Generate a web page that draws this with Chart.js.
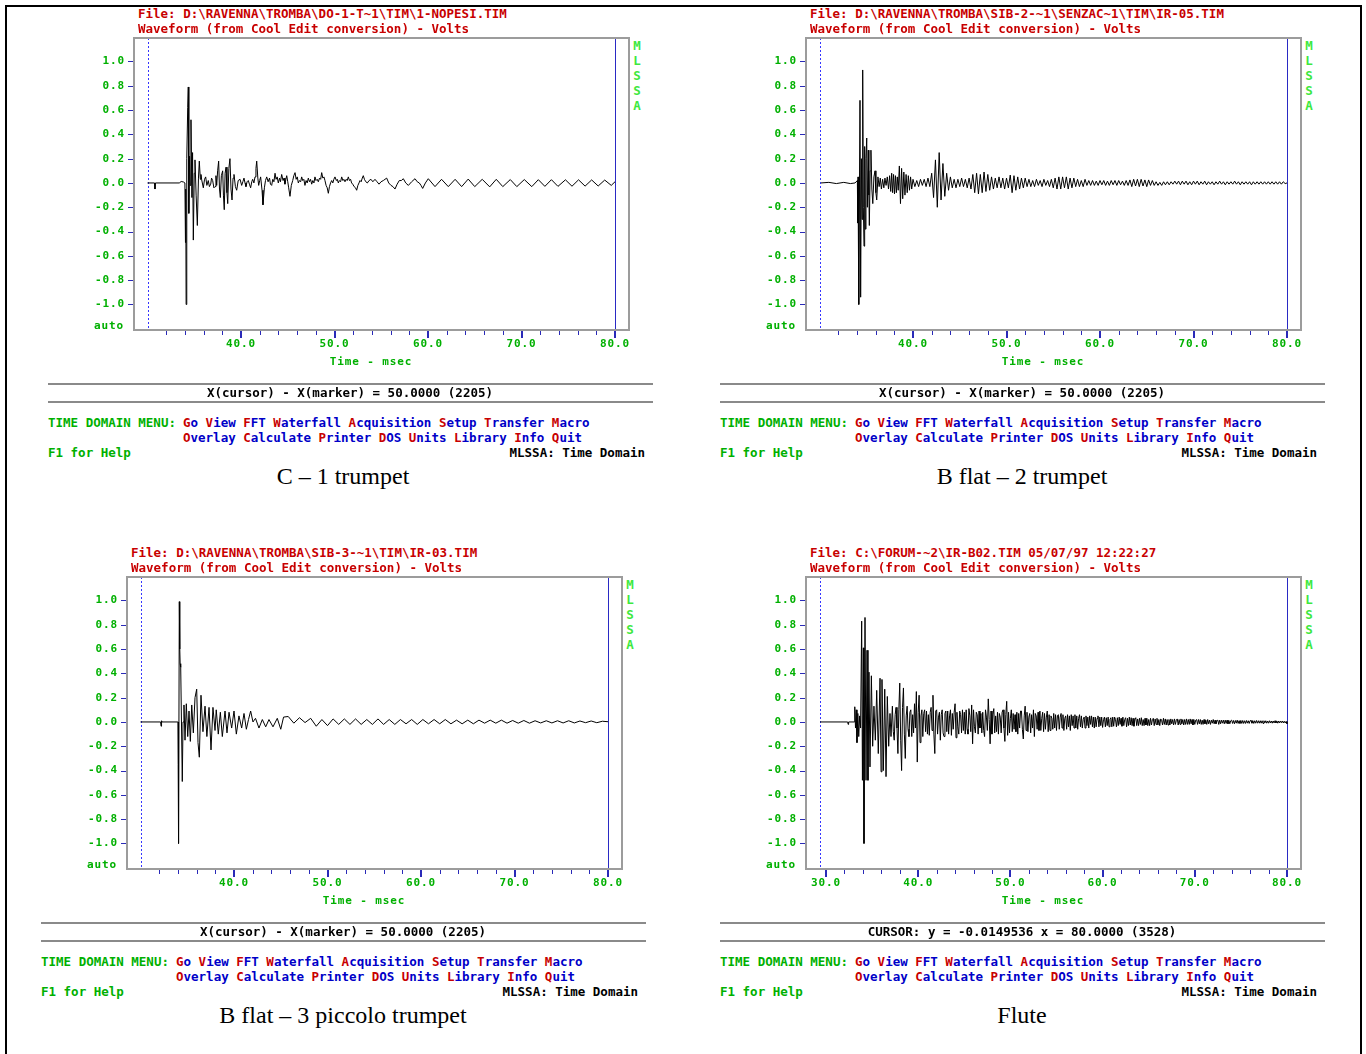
<!DOCTYPE html>
<html><head><meta charset="utf-8">
<script src="https://cdn.jsdelivr.net/npm/chart.js@4.4.1/dist/chart.umd.min.js"></script>
<style>
html,body{margin:0;padding:0;background:#fff}
body{width:1366px;height:1054px;position:relative;overflow:hidden}
#frame{position:absolute;left:5px;top:5px;width:1353px;height:1100px;border:2px solid #000}
.tx{position:absolute;white-space:pre;font-family:"DejaVu Sans Mono",monospace;font-weight:bold;font-size:12.5px;line-height:14px;height:14px}
.sm{font-size:11px;letter-spacing:0.9px}
.red{color:#c80000}.blu{color:#0000c8}.grn{color:#00b000}.blk{color:#000}.lg{color:#3ee83e}
.hr{position:absolute;height:2px;background:#8a8a8a}
.cap{position:absolute;font-family:"Liberation Serif","Times New Roman",serif;font-size:24px;line-height:26px;white-space:nowrap;transform:translateX(-50%)}
canvas{position:absolute}
</style></head><body><div id="frame"></div>
<script>
// ---------- axis ticks ----------
const voltTicks = [-1.0,-0.8,-0.6,-0.4,-0.2,0.0,0.2,0.4,0.6,0.8,1.0];
const msecTicksTrumpet = [32,34,36,38,40,42,44,46,48,50,52,54,56,58,60,62,64,66,68,70,72,74,76,78,80];
const msecTicksFlute = [30,32,34,36,38,40,42,44,46,48,50,52,54,56,58,60,62,64,66,68,70,72,74,76,78,80];

// ---------- menus / texts ----------
const menuRow1 = ['Go','View','FFT','Waterfall','Acquisition','Setup','Transfer','Macro'];
const menuRow2 = ['Overlay','Calculate','Printer','DOS','Units','Library','Info','Quit'];
const fileNames = [
  'File: D:\\RAVENNA\\TROMBA\\DO-1-T~1\\TIM\\1-NOPESI.TIM',
  'File: D:\\RAVENNA\\TROMBA\\SIB-2-~1\\SENZAC~1\\TIM\\IR-05.TIM',
  'File: D:\\RAVENNA\\TROMBA\\SIB-3-~1\\TIM\\IR-03.TIM',
  'File: C:\\FORUM-~2\\IR-B02.TIM 05/07/97 12:22:27'
];
const statusLines = [
  'X(cursor) - X(marker) = 50.0000 (2205)',
  'X(cursor) - X(marker) = 50.0000 (2205)',
  'X(cursor) - X(marker) = 50.0000 (2205)',
  'CURSOR: y = -0.0149536 x = 80.0000 (3528)'
];
const captions = ['C \u2013 1 trumpet','B flat \u2013 2 trumpet','B flat \u2013 3 piccolo trumpet','Flute'];
const markerMsec = [30.0, 30.0, 30.0, 29.35];
const cursorMsec = [80.0, 80.0, 80.0, 80.0];
const msecRanges = [[28.556,81.497],[28.556,81.497],[28.556,81.497],[27.83,81.52]];
const voltRange = [-1.21, 1.193];

// ---------- waveforms (msec, volts) ----------
const cTrumpet1 = [[30.0,0],[30.75,0],[30.8,-0.05],[30.85,0],[33.4,0],[33.6,0.012],[33.85,0.008],[34.0,0],
[34.06,-0.49],[34.09,-0.05],[34.13,-1.0],[34.2,0.2],[34.3,0.62],[34.36,0.79],[34.42,-0.25],[34.5,0.22],[34.57,-0.02],[34.65,0.52],[34.75,-0.12],[34.82,0.25],[34.9,-0.47],[35.0,0.08],[35.08,0.19],[35.2,-0.1],[35.33,-0.35],[35.45,0.04],[35.54,0.18],[35.65,0.03],[35.72,0.07],[35.8,0.025],[35.97,-0.04],[36.1,0.03],[36.22,0.05],[36.35,-0.02],[36.5,0.02],[36.62,-0.03],[36.76,-0.01],[36.85,0.04],[36.97,0.02],[37.1,-0.04],[37.22,-0.03],[37.32,0.06],[37.4,-0.02],[37.5,0.1],[37.61,0.18],[37.7,-0.05],[37.79,-0.12],[37.9,0.06],[38.04,0.1],[38.12,-0.1],[38.21,-0.22],[38.3,0.08],[38.4,0.13],[38.5,-0.08],[38.58,-0.17],[38.7,0.12],[38.82,0.2],[38.93,-0.05],[39.04,-0.14],[39.15,0.04],[39.25,0.07],[39.4,-0.03],[39.54,-0.06],[39.7,0.02],[39.9,0.03],
[40.07,-0.02],[40.2,0.01],[40.32,0.04],[40.43,0.0],[40.53,-0.03],[40.65,0.01],[40.78,0.02],[40.9,-0.01],[41.03,-0.04],[41.15,0.01],[41.25,0.03],[41.38,0.0],[41.5,0.05],[41.6,0.12],[41.68,0.18],[41.8,0.04],[41.89,-0.02],[42.0,0.02],[42.1,0.05],[42.25,-0.06],[42.35,-0.18],[42.5,-0.04],[42.62,0.02],[42.75,0.05],[42.9,0.01],[43.05,0.04],[43.15,-0.01],[43.28,-0.02],[43.4,0.03],[43.52,0.01],[43.64,0.08],[43.75,0.03],[43.87,0.05],[43.99,0.0],[44.12,0.04],[44.22,0.01],[44.35,0.07],[44.5,0.02],[44.6,0.04],[44.7,-0.01],[44.8,0.03],[44.89,0.06],[45.0,0.01],[45.1,-0.04],[45.24,-0.11],[45.38,-0.02],[45.53,0.02],[45.65,0.06],[45.78,0.085],[45.9,0.03],[46.02,0.05],[46.13,0.0],[46.25,0.02],[46.38,0.01],[46.49,0.05],[46.6,0.02],[46.72,0.03],[46.84,-0.02],[46.96,0.02],[47.08,0.0],[47.2,0.04],[47.32,0.01],[47.44,0.03],[47.56,-0.01],[47.68,0.02],[47.8,0.0],[47.91,0.05],[48.02,0.02],[48.15,0.03],[48.27,0.01],[48.4,0.04],[48.52,0.03],[48.63,0.085],[48.75,0.04],[48.87,0.05],[48.98,0.02],[49.1,-0.02],[49.22,-0.04],[49.34,-0.085],[49.46,-0.03],[49.58,0.0],[49.7,0.02],[49.82,0.0],[49.93,0.03],
[50.05,0.05],[50.2,0.02],[50.3,0.03],[50.41,0.0],[50.52,0.02],[50.65,0.01],[50.77,0.05],[50.9,0.02],[51.0,0.03],[51.12,0.01],[51.25,0.03],[51.36,0.02],[51.48,0.05],[51.6,0.02],[51.72,0.03],[51.83,0.0],[51.95,-0.01],[52.1,-0.03],[52.25,-0.04],[52.37,-0.06],[52.5,-0.02],[52.62,0.0],[52.73,0.02],[52.85,0.01],[52.97,0.04],[53.08,0.06],[53.2,0.03],[53.35,0.01],[53.51,0.0],[53.7,0.02],[53.9,0.03],[54.1,0.01],[54.33,0.03],[54.55,0.01],[54.76,-0.01],[54.98,0.01],[55.22,0.02],[55.4,0.03],[55.58,0.04],[55.8,0.0],[56.04,-0.02],[56.25,-0.03],[56.47,-0.05],[56.7,-0.01],[56.93,0.02],[57.15,0.02],[57.36,0.035],[57.62,0.0],[57.9,-0.02],[58.25,0.01],[58.61,0.035],[58.85,0.01],[59.07,0.0],[59.25,-0.02],[59.43,-0.045],[59.72,0.0],[60.03,0.035],
[60.75,-0.03],[61.45,0.03],[62.17,-0.03],[62.9,0.03],[63.6,-0.03],[64.3,0.032],[65.0,-0.03],[65.8,0.03],[66.6,-0.032],[67.3,0.03],[68.0,-0.03],[68.8,0.028],[69.5,-0.03],[70.3,0.028],[71.1,-0.03],[71.8,0.027],[72.5,-0.028],[73.2,0.027],[73.9,-0.028],[74.7,0.026],[75.4,-0.027],[76.1,0.026],[76.8,-0.026],[77.5,0.025],[78.2,-0.025],[78.9,0.024],[79.6,-0.02],[80.0,0.01]];

const bFlat2Attack = [[30.15,0],[31.0,0.005],[31.8,-0.005],[32.6,0.005],[33.3,-0.005],[33.8,0],[34.05,0.02],[34.09,-0.33],[34.12,0.05],[34.2,-1.0],[34.33,0.68],[34.4,-0.94],[34.48,0.2],[34.55,-0.3],[34.62,0.93],[34.69,-0.2],[34.76,-0.52],[34.83,0.3],[34.9,-0.38],[34.97,0.2],[35.05,0.37],[35.12,-0.2],[35.22,0.27],[35.28,-0.1],[35.33,-0.35],[35.42,0.1],[35.5,0.27],[35.6,-0.05],[35.7,-0.17],[35.82,0.05],[35.94,0.1],[36.03,-0.08],[36.12,-0.14],[36.25,0.05],[36.38,-0.03],[36.5,0.04],[36.62,-0.05],[36.75,0.03],[36.88,-0.04],[37.0,0.04],[37.12,-0.02],[37.25,0.05],[37.38,-0.05],[37.5,0.06],[37.62,-0.07],[37.72,0.08],[37.82,-0.08],[37.92,0.07],[38.02,-0.09],[38.12,0.06],[38.22,-0.08],[38.32,0.05],[38.42,-0.06],[38.54,0.14],[38.66,-0.17],[38.78,0.12],[38.9,-0.13],[39.02,0.09],[39.14,-0.1],[39.26,0.07],[39.38,-0.08],[39.5,0.06],[39.62,-0.06],[39.74,0.05],[39.86,-0.05]];
const bFlat2TailStart = 40.0, bFlat2TailStep = 0.2;
const bFlat2Tail = [
.03,-.03,.02,-.03,.03,-.02,.03,-.03,.04,-.03,
.08,-.12,.19,-.2,.25,-.14,.16,-.11,.08,-.06,
.05,-.04,.03,-.04,.03,-.03,.04,-.03,.03,-.04,
.04,-.05,.07,-.08,.08,-.09,.07,-.08,.09,-.07,
.07,-.06,.05,-.05,.04,-.04,.05,-.04,.04,-.05,
.04,-.04,.065,-.08,.06,-.06,.05,-.05,.04,-.04,
.04,-.03,.03,-.03,.02,-.03,.03,-.02,.02,-.03,
.03,-.02,.02,-.03,.03,-.04,.04,-.05,.05,-.05,
.05,-.04,.05,-.05,.04,-.04,.04,-.03,.03,-.03,
.02,-.03,.03,-.02,.02,-.02,.02,-.02,.015,-.02,
.02,-.015,.02,-.02,.015,-.02,.02,-.015,.02,-.02,
.02,-.015,.015,-.02,.02,-.02,.025,-.03,.03,-.025,
.03,-.03,.03,-.025,.025,-.03,.025,-.02,.02,-.02,
.01,-.02,.005,-.02,.01,-.015,.01,-.015,.01,-.01,
.015,-.01,.015,-.015,.015,-.01,.015,-.015,.01,-.015,
.015,-.01,.015,-.015,.01,-.01,.015,-.015,.01,-.01,
.01,-.015,.01,-.01,.015,-.01,.01,-.015,.01,-.01,
.01,-.01,.015,-.01,.01,-.015,.01,-.01,.01,-.01,
.01,-.015,.01,-.01,.01,-.01,.01,-.01,.01,-.01,
.01,-.01,.01,-.01,.01,-.01,.01,-.01,.01,-.005,
0];

const piccoloAttack = [[30.0,0],[32.15,0],[32.2,-0.035],[32.25,0.01],[32.3,0],[34.0,0],[34.03,-0.35],[34.06,0.0],[34.08,-1.0],[34.15,0.99],[34.2,0.6],[34.24,0.48],[34.3,0.45],[34.47,-0.49],[34.55,0.0],[34.65,0.14],[34.76,-0.15],[34.9,0.15],[35.05,-0.12],[35.19,0.09],[35.33,-0.16],[35.48,0.14],[35.65,-0.09],[35.83,0.2],[36.01,0.27],[36.15,-0.17],[36.29,-0.29],[36.47,0.22],[36.68,-0.08],[36.9,0.13],[37.1,-0.12],[37.33,0.12],[37.54,-0.23],[37.75,0.12],[37.97,-0.07],[38.1,0.1],[38.32,-0.1],[38.54,0.08],[38.75,-0.12],[39.04,0.09],[39.25,-0.09],[39.47,0.08],[39.75,-0.05],[40.0,0.09],[40.25,-0.1],[40.53,0.05],[40.82,-0.05],[41.07,0.07],[41.32,-0.06],[41.55,0.02],[41.78,0.09],[42.03,0.0],[42.3,0.03],[42.67,-0.05],[43.03,0.02],[43.39,-0.04],[43.74,0.02],[44.17,-0.04],[44.63,0.03],[45.0,-0.06],[45.3,0.04]];
const piccoloTailStart = 45.8, piccoloTailStep = 0.6;
const piccoloTail = [
.045,-.01,.035,-.005,.03,-.035,.02,-.03,.025,-.02,
.025,-.02,.025,-.02,.02,-.02,.025,-.02,.02,-.02,
.02,-.015,.02,-.02,.02,-.015,.02,-.015,.02,-.015,
.015,-.015,.015,-.015,.015,-.01,.015,-.01,.015,-.01,
.012,-.01,.012,-.01,.01,-.008,.01,-.008,.01,-.008,
.01,-.008,.008,-.006,.008,-.006,.006,.002];

const fluteAttack = [[29.35,0],[32.35,0],[32.4,-0.02],[32.45,0],[33.05,0],[33.12,0.125],[33.2,-0.05],[33.28,0.1],[33.36,-0.17],[33.45,0.07],[33.55,-0.12],[33.65,0.05],[33.75,-0.05],[33.87,0.83],[33.95,-0.48],[34.05,0.61],[34.12,-1.0],[34.23,0.86],[34.34,-0.48],[34.45,0.59],[34.55,-0.48],[34.66,0.41],[34.77,-0.37],[34.92,0.38],[35.06,-0.2],[35.2,0.13],[35.35,-0.15],[35.5,0.26],[35.67,-0.26],[35.86,0.36],[35.97,-0.41],[36.07,0.35],[36.22,-0.4],[36.37,0.27],[36.51,-0.45],[36.65,0.21],[36.8,-0.2],[36.94,0.07],[37.05,-0.12]];
const fluteTailStart = 37.2, fluteTailStep = 0.1;
const fluteTail = [
.13,-.08,-.15,.06,.12,-.05,-.26,.1,.32,-.15,-.4,.12,.28,-.1,-.3,.05,.13,-.06,-.12,.08,
.1,-.12,.06,-.09,.15,-.05,.25,-.33,.08,.22,-.17,.05,.1,-.12,.07,.1,-.08,.09,-.1,.06,
-.11,.08,.12,-.07,.22,-.1,-.26,.09,.1,-.1,.04,.08,-.15,.06,.1,-.09,-.12,.07,.09,-.08,
.09,-.1,.05,.1,-.11,.07,-.06,.08,.15,-.13,.08,-.04,-.1,.09,.06,-.09,.1,-.07,.08,-.1,
.1,-.06,-.1,.11,.05,-.08,.14,-.18,.1,-.04,-.09,.08,.06,-.1,.09,-.05,.07,-.09,.08,-.07,
-.12,.1,.04,-.07,.19,.02,-.18,.09,-.1,.06,.11,-.09,.05,-.08,.08,-.1,.07,.04,-.09,.08,
.1,-.05,-.16,.06,.17,-.11,.08,-.09,.03,.1,-.08,.07,-.06,.06,-.08,.08,-.1,.07,-.05,.09,
.09,-.06,-.14,.05,.13,-.07,.08,-.08,.04,.07,-.09,.06,-.05,.1,-.12,.07,.05,-.06,.08,-.07,
.09,-.07,.03,.08,-.08,.07,-.06,.04,.09,-.08,.06,-.07,.05,.03,-.06,.07,-.05,.06,-.07,.05,
.06,-.06,.04,.07,-.05,.06,-.07,.03,.05,-.06,.06,-.04,.05,-.07,.06,-.03,.05,-.05,.06,-.05,
.05,-.06,.03,.06,-.04,.05,-.05,.02,.04,-.05,.05,-.03,.04,-.05,.05,-.02,.05,-.04,.04,-.05,
.04,-.04,.03,.05,-.04,.04,-.03,.04,-.045,.02,.04,-.04,.035,-.03,.04,-.04,.02,.035,-.04,.04,
-.035,.04,.02,-.04,.035,-.03,.04,-.02,.03,-.035,.04,-.03,.02,.035,-.04,.03,-.03,.04,-.025,.035,
-.03,.03,-.035,.02,.035,-.03,.025,-.03,.03,-.02,.035,-.03,.02,-.03,.03,-.025,.03,-.03,.02,-.03,
.03,-.025,.02,.03,-.03,.025,-.02,.03,-.025,.02,-.03,.025,.015,-.025,.03,-.02,.025,-.025,.02,-.025,
.02,-.025,.025,-.015,.02,-.025,.025,-.02,.015,.025,-.025,.02,-.02,.025,-.015,.02,-.025,.02,-.02,.025,
-.02,.02,-.02,.025,-.015,.02,-.025,.02,-.02,.015,.02,-.02,.02,-.015,.02,-.02,.015,-.02,.02,-.015,
.015,-.02,.02,-.015,.015,-.02,.015,-.01,.02,-.015,.015,-.015,.01,.015,-.02,.015,-.015,.015,-.01,.015,
-.015,.015,-.012,.015,-.015,.012,-.015,.01,.015,-.012,.012,-.015,.012,-.01,.015,-.012,.01,-.012,.012,-.012,
.012,-.012,.01,-.012,.012,-.01,.01,-.012,.01,.012,-.01,.01,-.012,.01,-.01,.012,-.01,.01,-.01,.01,
-.01,.01,-.012,.01,-.008,.01,-.01,.008,-.01,.01,-.008,.008,-.01,.008,-.008,.01,-.008,.008,-.01,.008,
-.008,.008,-.006,.008,-.008,.006,-.008,.004,-.015];

// ---------- helpers ----------
const pairPts = arr => arr.map(([x,y]) => ({x, y}));
const tailPts = (start, step, vals) => vals.map((v,i) => ({x: +(start + i*step).toFixed(3), y: v}));

const waves = [
  pairPts(cTrumpet1),
  pairPts(bFlat2Attack).concat(tailPts(bFlat2TailStart, bFlat2TailStep, bFlat2Tail)),
  pairPts(piccoloAttack).concat(tailPts(piccoloTailStart, piccoloTailStep, piccoloTail)),
  pairPts(fluteAttack).concat(tailPts(fluteTailStart, fluteTailStep, fluteTail))
];
const waveWidths = [1, 1, 1, 1];
const xTickSets = [msecTicksTrumpet, msecTicksTrumpet, msecTicksTrumpet, msecTicksFlute];

// panel layout (offsets of each panel relative to the first one)
const offsets = [[0,0],[672,0],[-7,539],[672,539]];
const captionCenters = [[343,476],[1022,476],[343,1015],[1022,1015]];
const BOX = {l:134, t:38, w:495, h:292};
const GREEN = '#00b000';
const MONO = '"DejaVu Sans Mono", monospace';

function addText(x, cy, s, cls, align){
  const d = document.createElement('div');
  d.className = 'tx ' + cls;
  d.textContent = s;
  d.style.left = x + 'px';
  d.style.top = (cy - 7) + 'px';
  if (align === 'c') d.style.transform = 'translateX(-50%)';
  if (align === 'r') d.style.transform = 'translateX(-100%)';
  document.body.appendChild(d);
  return d;
}
function addMenu(x, cy, words){
  const d = document.createElement('div');
  d.className = 'tx';
  d.style.left = x + 'px'; d.style.top = (cy - 7) + 'px';
  words.forEach((w, i) => {
    const a = document.createElement('span'); a.className = 'red'; a.textContent = w[0];
    const b = document.createElement('span'); b.className = 'blu'; b.textContent = w.slice(1) + (i < words.length-1 ? ' ' : '');
    d.appendChild(a); d.appendChild(b);
  });
  document.body.appendChild(d);
}
function addHr(x, y, w){
  const d = document.createElement('div'); d.className = 'hr';
  d.style.left = x + 'px'; d.style.top = (y-1) + 'px'; d.style.width = w + 'px';
  document.body.appendChild(d);
}

function framePlugin(i){
  return {
    id: 'mlssaFrame' + i,
    beforeDraw(chart){ chart.ctx.letterSpacing = '0.9px'; },
    beforeDatasetsDraw(chart){
      const {ctx, chartArea:a, scales:{x}} = chart;
      ctx.save();
      ctx.lineWidth = 1;
      ctx.strokeStyle = '#3535ff';
      ctx.setLineDash([2,2]);
      const mx = Math.round(x.getPixelForValue(markerMsec[i])) + 0.5;
      ctx.beginPath(); ctx.moveTo(mx, a.top); ctx.lineTo(mx, a.bottom); ctx.stroke();
      ctx.setLineDash([]);
      ctx.strokeStyle = '#2a2ac4';
      const cx = Math.round(x.getPixelForValue(cursorMsec[i])) + 0.5;
      ctx.beginPath(); ctx.moveTo(cx, a.top); ctx.lineTo(cx, a.bottom); ctx.stroke();
      ctx.restore();
    },
    afterDraw(chart){
      const {ctx, chartArea:a, scales:{x, y}} = chart;
      ctx.save();
      ctx.strokeStyle = '#9c9c9c'; ctx.lineWidth = 2;
      ctx.strokeRect(a.left, a.top, a.right - a.left, a.bottom - a.top);
      ctx.strokeStyle = '#2a2ab8';
      xTickSets[i].forEach(v => {
        const major = v % 10 === 0;
        const px = Math.round(x.getPixelForValue(v)) + (major ? 0 : 0.5);
        ctx.lineWidth = major ? 2 : 1;
        ctx.beginPath(); ctx.moveTo(px, a.bottom + 1); ctx.lineTo(px, a.bottom + (major ? 8 : 5)); ctx.stroke();
      });
      ctx.lineWidth = 1;
      voltTicks.forEach(v => {
        const py = Math.round(y.getPixelForValue(v)) + 0.5;
        ctx.beginPath(); ctx.moveTo(a.left - 6, py); ctx.lineTo(a.left - 1, py); ctx.stroke();
      });
      ctx.restore();
    }
  };
}

function buildPanel(i){
  const [dx, dy] = offsets[i];
  const L = BOX.l + dx, T = BOX.t + dy;
  const yAxisW = 90, xAxisH = 30, pad = 4;
  const cv = document.createElement('canvas');
  cv.width = yAxisW + BOX.w + pad; cv.height = pad + BOX.h + xAxisH;
  cv.style.left = (L - yAxisW) + 'px'; cv.style.top = (T - pad) + 'px';
  cv.style.width = cv.width + 'px'; cv.style.height = cv.height + 'px';
  document.body.appendChild(cv);
  const tickFont = {family: MONO, size: 11, weight: 'bold'};
  new Chart(cv, {
    type: 'line',
    data: {datasets: [{data: waves[i], borderColor: '#000', borderWidth: waveWidths[i], pointRadius: 0, tension: 0, fill: false}]},
    options: {
      animation: false, responsive: false, devicePixelRatio: 1, parsing: false,
      layout: {padding: {top: pad, right: pad, left: 0, bottom: 0}, autoPadding: false},
      plugins: {legend: {display: false}, tooltip: {enabled: false}},
      scales: {
        x: {type: 'linear', min: msecRanges[i][0], max: msecRanges[i][1],
            afterBuildTicks: s => { s.ticks = xTickSets[i].map(v => ({value: v})); },
            afterFit: s => { s.height = xAxisH; s.paddingLeft = 0; s.paddingRight = 0; s.paddingTop = 0; s.paddingBottom = 0; },
            grid: {display: false, drawTicks: false}, border: {display: false},
            ticks: {autoSkip: false, maxRotation: 0, minRotation: 0, padding: 8, color: GREEN, font: tickFont,
                    callback: v => (v % 10 === 0 ? Number(v).toFixed(1) : '')}},
        y: {type: 'linear', min: voltRange[0], max: voltRange[1],
            afterBuildTicks: s => { s.ticks = voltTicks.map(v => ({value: v})); },
            afterFit: s => { s.width = yAxisW; s.paddingTop = 0; s.paddingBottom = 0; s.paddingLeft = 0; s.paddingRight = 0; },
            grid: {display: false, drawTicks: false}, border: {display: false},
            ticks: {autoSkip: false, padding: 9, color: GREEN, font: tickFont,
                    callback: v => Number(v).toFixed(1)}}
      }
    },
    plugins: [framePlugin(i)]
  });

  // texts
  addText(138 + dx, 14 + dy, fileNames[i], 'red');
  addText(138 + dx, 29 + dy, 'Waveform (from Cool Edit conversion) - Volts', 'red');
  'MLSSA'.split('').forEach((c, k) => addText(637 + dx, 46 + k*15 + dy, c, 'lg', 'c'));
  addText(124 + dx, 326 + dy, 'auto', 'grn sm', 'r');
  addText(371 + dx, 362 + dy, 'Time - msec', 'grn sm', 'c');
  addHr(48 + dx, 384 + dy, 605);
  addHr(48 + dx, 402 + dy, 605);
  addText(350 + dx, 393 + dy, statusLines[i], 'blk', 'c');
  addText(48 + dx, 423 + dy, 'TIME DOMAIN MENU:', 'grn');
  addMenu(183 + dx, 423 + dy, menuRow1);
  addMenu(183 + dx, 438 + dy, menuRow2);
  addText(48 + dx, 453 + dy, 'F1 for Help', 'grn');
  addText(645 + dx, 453 + dy, 'MLSSA: Time Domain', 'blk', 'r');
  const c = document.createElement('div'); c.className = 'cap';
  c.textContent = captions[i];
  c.style.left = captionCenters[i][0] + 'px'; c.style.top = (captionCenters[i][1] - 13) + 'px';
  document.body.appendChild(c);
}
for (let i = 0; i < 4; i++) buildPanel(i);
</script></body></html>
